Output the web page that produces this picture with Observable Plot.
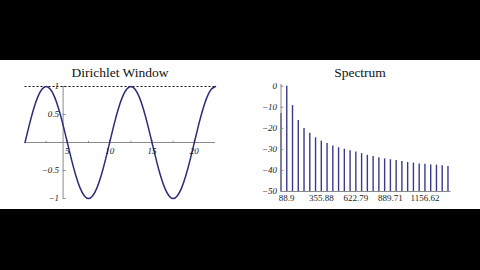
<!DOCTYPE html>
<html><head><meta charset="utf-8">
<script src="https://cdn.jsdelivr.net/npm/d3@7"></script>
<script src="https://cdn.jsdelivr.net/npm/@observablehq/plot@0.6"></script>
<style>
html,body{margin:0;padding:0;background:#000;width:480px;height:270px;overflow:hidden}
#band{position:absolute;left:0;top:60px;width:480px;height:149px;background:#fff}
.panel{position:absolute;top:60px;width:240px;height:150px}
.title{position:absolute;top:64px;width:240px;text-align:center;font-family:"Liberation Serif",serif;font-size:13.5px;line-height:18px;color:#111}
</style></head><body>
<div id="band"></div>
<div class="panel" id="left" style="left:0"></div>
<div class="panel" id="right" style="left:240px"></div>
<div class="title" style="left:0">Dirichlet Window</div>
<div class="title" style="left:240px">Spectrum</div>
<script>
// ---- Left panel data ----
const windowX = [0,0.5,1,1.5,2,2.5,3,3.5,4,4.5,5,5.5,6,6.5,7,7.5,8,8.5,9,9.5,10,10.5,11,11.5,12,12.5,13,13.5,14,14.5,15,15.5,16,16.5,17,17.5,18,18.5,19,19.5,20,20.5,21,21.5,22,22.5];
const windowY = [0,0.31,0.59,0.81,0.95,1,0.95,0.81,0.59,0.31,0,-0.31,-0.59,-0.81,-0.95,-1,-0.95,-0.81,-0.59,-0.31,0,0.31,0.59,0.81,0.95,1,0.95,0.81,0.59,0.31,0,-0.31,-0.59,-0.81,-0.95,-1,-0.95,-0.81,-0.59,-0.31,0,0.31,0.59,0.81,0.95,1];
const leftXTicks = [5,10,15,20];
const leftXMinor = [2.5,7.5,12.5,17.5];
const leftYTicks = [1,0.5,-0.5,-1];
const leftYLabels = ["1","0.5","\u22120.5","\u22121"];

// ---- Right panel data ----
const freqs = [44.49,88.97,133.46,177.94,222.43,266.91,311.40,355.88,400.37,444.85,489.34,533.82,578.31,622.79,667.28,711.77,756.25,800.74,845.22,889.71,934.19,978.68,1023.16,1067.65,1112.13,1156.62,1201.10,1245.59,1290.07,1334.56];
const spectrum = [-13,0,-9.2,-16.3,-20.1,-22.4,-24.5,-26.1,-27.2,-28.4,-29.2,-29.9,-30.6,-31.2,-32.0,-32.8,-33.4,-34.0,-34.5,-34.9,-35.3,-35.8,-36.2,-36.5,-36.9,-37.1,-37.4,-37.5,-37.8,-38.1];
const rightXTicks = [88.9,355.88,622.79,889.71,1156.62];
const rightXLabels = ["88.9","355.88","622.79","889.71","1156.62"];
const rightYTicks = [0,-10,-20,-30,-40,-50];
const rightYLabels = ["0","\u221210","\u221220","\u221230","\u221240","\u221250"];

const axisColor = "#8a8a8a";
const font = "Liberation Serif";
const curveData = windowX.map((x,i)=>({x, y: windowY[i]}));
const yAxisAt = 4.5;

const left = Plot.plot({
  width: 240, height: 150,
  marginLeft: 24.5, marginRight: 25, marginTop: 26, marginBottom: 12,
  x: {domain: [0,22.5], axis: null},
  y: {domain: [-1,1], axis: null},
  style: {background: "transparent", overflow: "visible"},
  marks: [
    Plot.ruleY([0], {stroke: axisColor, strokeWidth: 1}),
    Plot.ruleX([yAxisAt], {y1: -1, y2: 1, stroke: axisColor, strokeWidth: 1}),
    Plot.ruleX(leftXMinor, {x: d=>d, y1: -0.02, y2: 0.02, stroke: axisColor}),
    Plot.ruleX(leftXTicks, {x: d=>d, y1: -0.04, y2: 0.04, stroke: axisColor}),
    Plot.ruleY(leftYTicks, {y: d=>d, x1: yAxisAt, x2: yAxisAt+0.35, stroke: axisColor}),
    Plot.ruleY([1], {stroke: "#111", strokeDasharray: "2,2", strokeWidth: 1}),
    Plot.line(curveData, {x: "x", y: "y", curve: "natural", stroke: "#2c2c78", strokeWidth: 1.5}),
    Plot.text(leftXTicks, {x: d=>d, y: 0, dy: 9, text: d=>String(d), fontFamily: font, fontStyle: "italic", fontSize: 9, fill: "#222"}),
    Plot.text(leftYTicks, {x: yAxisAt, y: d=>d, dx: -4, text: (d,i)=>leftYLabels[i], textAnchor: "end", fontFamily: font, fontStyle: "italic", fontSize: 9, fill: "#222"})
  ]
});
document.getElementById("left").appendChild(left);

const specData = freqs.map((f,i)=>({f, v: spectrum[i]}));
const right = Plot.plot({
  width: 240, height: 150,
  marginLeft: 40.5, marginRight: 29.5, marginTop: 25.7, marginBottom: 19,
  x: {domain: [44.5, 1358], axis: null},
  y: {domain: [-50, 0], axis: null},
  style: {background: "transparent", overflow: "visible"},
  marks: [
    Plot.ruleX(specData, {x: "f", y1: -50, y2: "v", stroke: "#3a3a88", strokeWidth: 1.4}),
    Plot.ruleY([-50], {stroke: axisColor, strokeWidth: 1}),
    Plot.ruleX([44.5], {y1: -50, y2: 0.8, stroke: axisColor, strokeWidth: 1}),
    Plot.ruleY(rightYTicks, {y: d=>d, x1: 44.5, x2: 44.5+22, stroke: axisColor}),
    Plot.text(rightYTicks, {x: 44.5, y: d=>d, dx: -4, text: (d,i)=>rightYLabels[i], textAnchor: "end", fontFamily: font, fontStyle: "italic", fontSize: 9, fill: "#222"}),
    Plot.text(rightXTicks, {x: d=>d, y: -50, dy: 6.5, text: (d,i)=>rightXLabels[i], fontFamily: font, fontSize: 9, fill: "#222"})
  ]
});
document.getElementById("right").appendChild(right);
</script>
</body></html>
